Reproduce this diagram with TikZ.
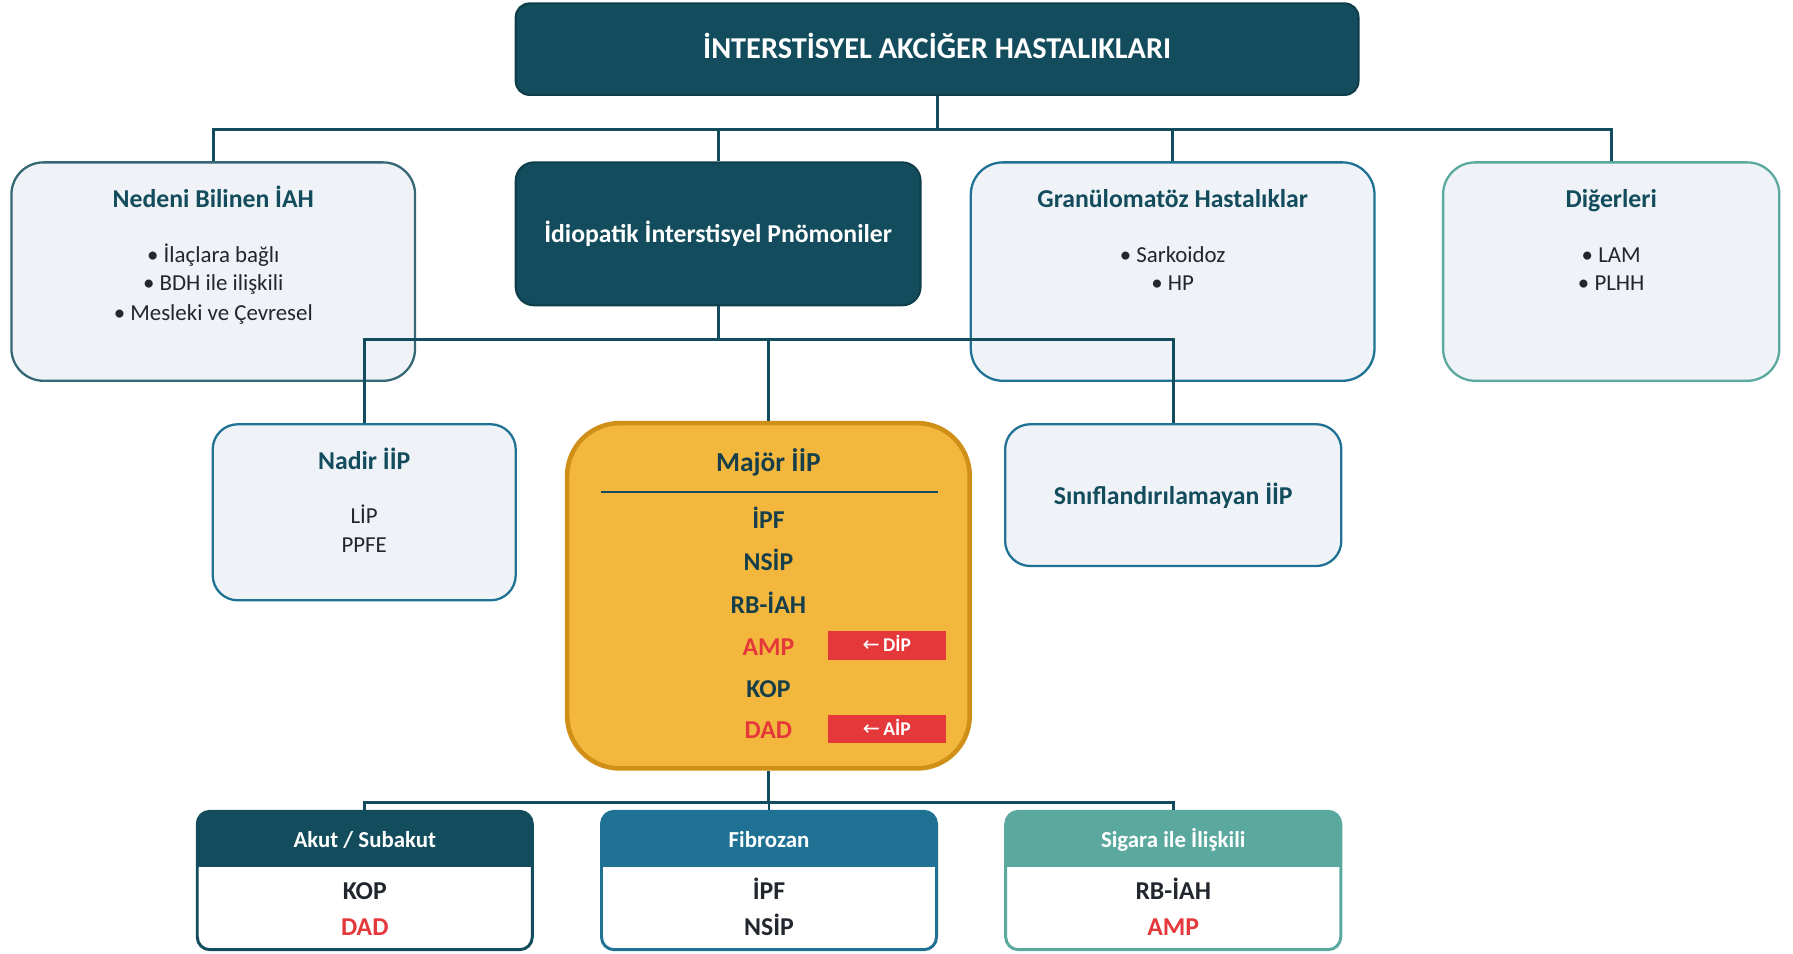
\documentclass[tikz,border=0pt]{standalone}
\usepackage{fontspec}
\setmainfont{Carlito}
\newfontfamily\arrowfont{DejaVu Sans}
\definecolor{navy}{HTML}{134C5C}
\definecolor{navyline}{HTML}{0F3E4B}
\definecolor{steel}{HTML}{1F7294}
\definecolor{sage}{HTML}{5BA99E}
\definecolor{pale}{HTML}{EFF3F7}
\definecolor{amber}{HTML}{F3B73E}
\definecolor{amberline}{HTML}{D08F16}
\definecolor{alert}{HTML}{E5383B}
\definecolor{ink}{HTML}{22262E}
\definecolor{deepink}{HTML}{173F4A}
\newcommand\fsHead{\fontsize{26.5}{30}\selectfont\bfseries}
\newcommand\fsBox{\fontsize{22.5}{26}\selectfont\bfseries}
\newcommand\fsItem{\fontsize{20}{24}\selectfont}
\newcommand\fsTag{\fontsize{17}{20}\selectfont\bfseries}
\newcommand\leftarr{{\arrowfont\mdseries\fontsize{18}{20}\selectfont ←}}
\tikzset{
  lbl/.style={inner sep=0pt, text height=6.4pt, text depth=0pt, yshift=-5pt},
  conn/.style={draw=navy, line width=2.6pt},
  darkbox/.style={fill=navy, draw=navyline, line width=1.8pt, text=white, inner sep=0pt, text depth=0pt},
  lightbox/.style={fill=pale, line width=2pt},
  grpbox/.style={fill=white, line width=2.6pt, rounded corners=11pt},
  grphead/.style={rounded corners=11pt, inner sep=0pt},
  tag/.style={fill=alert, text=white, minimum width=103pt, minimum height=25pt, inner sep=0pt, text height=11pt, text depth=0pt},
}
\begin{document}
\begin{tikzpicture}[x=1pt, y=-1pt]
\useasboundingbox (0,0) rectangle (1568,834);

% root
\node[darkbox, text height=17pt, rounded corners=12pt, minimum width=737pt, minimum height=80pt] (root) at (819.5,43) {\fsHead İNTERSTİSYEL AKCİĞER HASTALIKLARI};

% second level
\node[lightbox, draw=navy!85, rounded corners=28pt, minimum width=353pt, minimum height=191pt] (known) at (186.5,237.5) {};
\node[darkbox, text height=14.5pt, rounded corners=16pt, minimum width=354pt, minimum height=125pt] (iip) at (628,204.5) {\fsBox İdiopatik İnterstisyel Pnömoniler};
\node[lightbox, draw=steel, rounded corners=28pt, minimum width=353pt, minimum height=191pt] (gran) at (1025.5,237.5) {};
\node[lightbox, draw=sage, rounded corners=28pt, minimum width=294pt, minimum height=191pt] (other) at (1409,237.5) {};

\node[lbl, text=navy] (knownT) at (186.5,173) {\fsBox Nedeni Bilinen İAH};
\node[lbl, text=ink] (known1) at (186.5,221) {\fsItem • İlaçlara bağlı};
\node[lbl, text=ink] (known2) at (186.5,246) {\fsItem • BDH ile ilişkili};
\node[lbl, text=ink] (known3) at (186.5,272) {\fsItem • Mesleki ve Çevresel};

\node[lbl, text=navy] (granT) at (1025.5,173) {\fsBox Granülomatöz Hastalıklar};
\node[lbl, text=ink] (gran1) at (1025.5,221) {\fsItem • Sarkoidoz};
\node[lbl, text=ink] (gran2) at (1025.5,246) {\fsItem • HP};

\node[lbl, text=navy] (otherT) at (1409,173) {\fsBox Diğerleri};
\node[lbl, text=ink] (other1) at (1409,221) {\fsItem • LAM};
\node[lbl, text=ink] (other2) at (1409,246) {\fsItem • PLHH};

% connectors from the root
\coordinate (busA) at (819.5,113);
\draw[conn] (root.south) -- (root.south |- busA);
\draw[conn] (known.north) |- (busA) -| (other.north);
\draw[conn] (iip.north) -- (iip.north |- busA);
\draw[conn] (gran.north) -- (gran.north |- busA);

% third level
\node[lightbox, draw=steel, rounded corners=22pt, minimum width=265pt, minimum height=154pt] (rare) at (318.5,448) {};
\node[fill=amber, draw=amberline, line width=4pt, rounded corners=46pt, minimum width=352pt, minimum height=302pt] (major) at (672,521) {};
\node[lightbox, draw=steel, rounded corners=22pt, minimum width=294pt, minimum height=124pt] (uncl) at (1026,433) {};

\coordinate (busB) at (628,297);
\draw[conn] (iip.south) -- (busB);
\draw[conn] (rare.north) |- (busB) -| (uncl.north);
\draw[conn] (major.north) -- (major.north |- busB);

\node[lbl, text=navy] (rareT) at (318.5,402) {\fsBox Nadir İİP};
\node[lbl, text=ink] (rare1) at (318.5,450) {\fsItem LİP};
\node[lbl, text=ink] (rare2) at (318.5,475) {\fsItem PPFE};

\node[lbl, text=navy] (unclT) at (1026,433) {\fsBox Sınıflandırılamayan İİP};

\node[lbl, text=deepink] (majT) at (672,404) {\fontsize{24}{28}\selectfont\bfseries Majör İİP};
\coordinate (ruleL) at (526,430);
\coordinate (ruleR) at (820,430);
\draw[navy, line width=1.8pt] (ruleL) -- (ruleR);
\node[lbl, text=deepink] (maj1) at (672,454) {\fsBox İPF};
\node[lbl, text=deepink] (maj2) at (672,491) {\fsBox NSİP};
\node[lbl, text=deepink] (maj3) at (672,528) {\fsBox RB-İAH};
\node[lbl, text=alert] (maj4) at (672,565) {\fsBox AMP};
\node[lbl, text=deepink] (maj5) at (672,602) {\fsBox KOP};
\node[lbl, text=alert] (maj6) at (672,638) {\fsBox DAD};
\node[tag] (tagA) at (775.5,564.5) {\fsTag\leftarr\,DİP};
\node[tag] (tagB) at (775.5,637.5) {\fsTag\leftarr\,AİP};

% fourth level: groups with coloured headers
\coordinate (busC) at (672,702);
\node[grpbox, draw=navy, minimum width=293pt, minimum height=121pt] (acute) at (319,770) {};
\node[grpbox, draw=steel, minimum width=293pt, minimum height=121pt] (fibro) at (672.5,770) {};
\node[grpbox, draw=sage, minimum width=293pt, minimum height=121pt] (smoke) at (1026,770) {};

\draw[conn] (major.south) -- (busC);
\draw[conn] (acute.north) |- (busC) -| (smoke.north);
\draw[conn] (fibro.north) -- (fibro.north |- busC);

\foreach \g/\c/\t in {acute/navy/{Akut / Subakut}, fibro/steel/{Fibrozan}, smoke/sage/{Sigara ile İlişkili}}{
  \node[grphead, fill=\c, minimum width=294.6pt, minimum height=48pt, anchor=north] (\g H) at ([yshift=-1.3pt]\g.north) {};
  \fill[\c] (\g H.west) rectangle (\g H.south east);
  \node[lbl, text=white, yshift=1pt] (\g HT) at (\g H) {\fontsize{20}{24}\selectfont\bfseries \t};
}

\node[lbl, text=ink] (acute1) at (319,778) {\fsBox KOP};
\node[lbl, text=alert] (acute2) at (319,810) {\fsBox DAD};
\node[lbl, text=ink] (fibro1) at (672.5,778) {\fsBox İPF};
\node[lbl, text=ink] (fibro2) at (672.5,810) {\fsBox NSİP};
\node[lbl, text=ink] (smoke1) at (1026,778) {\fsBox RB-İAH};
\node[lbl, text=alert] (smoke2) at (1026,810) {\fsBox AMP};
\end{tikzpicture}
\end{document}
